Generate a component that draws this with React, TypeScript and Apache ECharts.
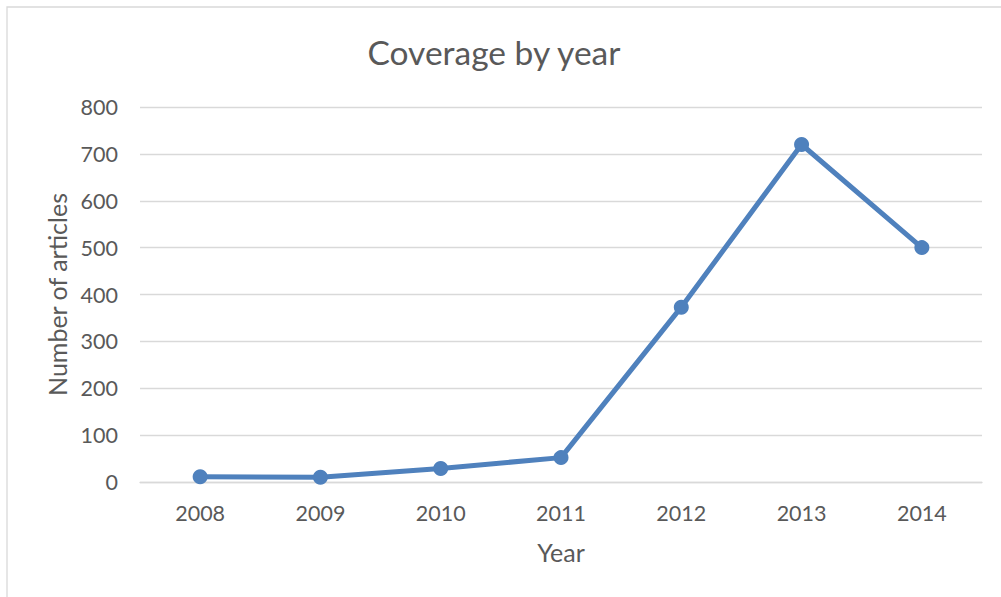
import React, { useEffect, useRef } from "react";
import * as echarts from "echarts";

const years = ["2008", "2009", "2010", "2011", "2012", "2013", "2014"];
const articles = [11, 10, 29, 52, 373, 720, 500];
const yTicks = { min: 0, max: 800, interval: 100 };

const FONT = "Lato";
const TEXT = "#595959";
const GRID = "#d9d9d9";
const LINE = "#4f81bd";

export default function App() {
  const ref = useRef<HTMLDivElement>(null);

  useEffect(() => {
    if (!ref.current) return;
    const chart = echarts.init(ref.current, undefined, { renderer: "svg" });
    chart.setOption({
      animation: false,
      backgroundColor: "#ffffff",
      textStyle: { fontFamily: FONT },
      title: {
        text: "Coverage by year",
        left: 489,
        top: 30,
        textAlign: "center",
        textStyle: { fontFamily: FONT, fontSize: 33.5, fontWeight: "normal", color: TEXT },
      },
      graphic: [
        {
          type: "rect",
          shape: { x: 7, y: 7, width: 1200, height: 800 },
          style: { fill: "none", stroke: GRID, lineWidth: 1.3 },
          silent: true,
        },
      ],
      grid: { left: 140, right: 19, top: 107, bottom: 115, containLabel: false },
      xAxis: {
        type: "category",
        data: years,
        boundaryGap: true,
        name: "Year",
        nameLocation: "middle",
        nameGap: 57,
        nameTextStyle: { fontFamily: FONT, fontSize: 25, color: TEXT },
        axisLine: { show: true, lineStyle: { color: GRID, width: 1.3 } },
        axisTick: { show: false },
        axisLabel: { color: TEXT, fontFamily: FONT, fontSize: 21.5, margin: 20 },
      },
      yAxis: {
        type: "value",
        min: yTicks.min,
        max: yTicks.max,
        interval: yTicks.interval,
        name: "Number of articles",
        nameLocation: "middle",
        nameGap: 70,
        nameTextStyle: { fontFamily: FONT, fontSize: 25, color: TEXT },
        axisLine: { show: false },
        axisTick: { show: false },
        axisLabel: { color: TEXT, fontFamily: FONT, fontSize: 21.5, margin: 22 },
        splitLine: { lineStyle: { color: GRID, width: 1.3 } },
      },
      series: [
        {
          type: "line",
          data: articles,
          symbol: "circle",
          symbolSize: 15,
          itemStyle: { color: LINE },
          lineStyle: { color: LINE, width: 5 },
        },
      ],
    });
    return () => chart.dispose();
  }, []);

  return (
    <div
      ref={ref}
      style={{ position: "fixed", left: 0, top: 0, width: 1001, height: 597 }}
    />
  );
}
